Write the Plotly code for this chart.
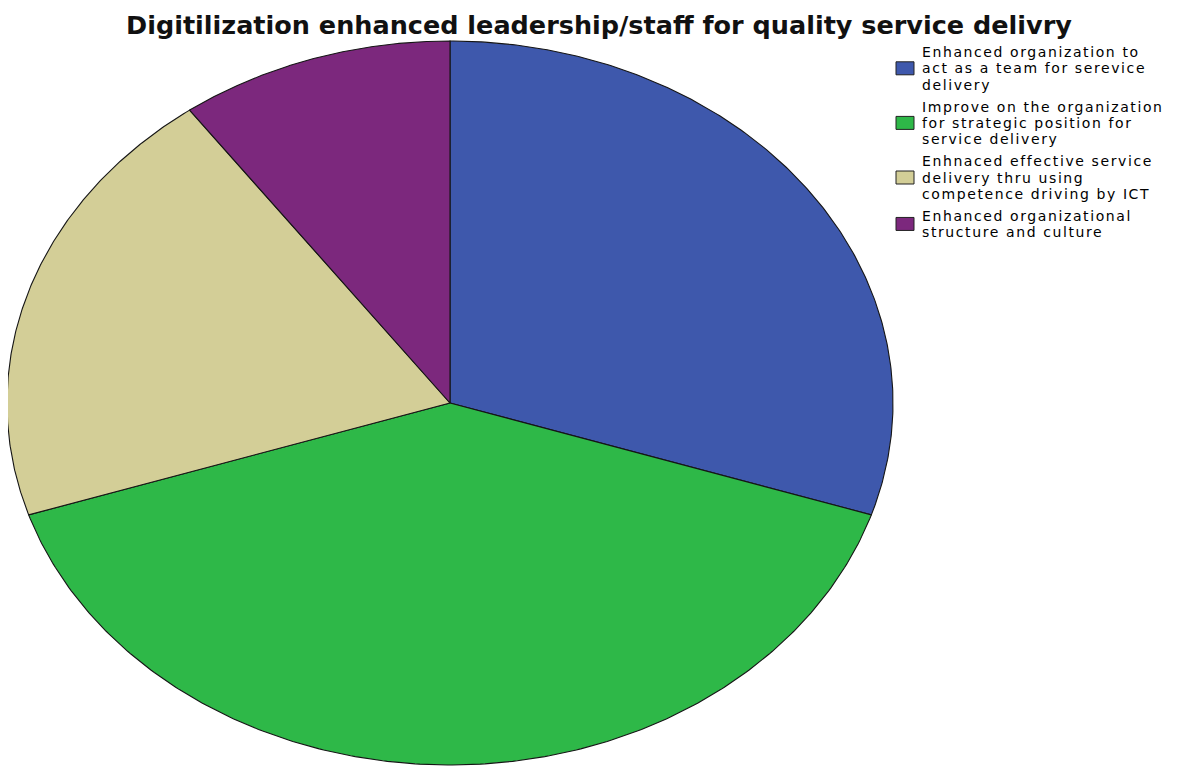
import numpy as np
import plotly.graph_objects as go

# ---- data ----
title_text = "Digitilization enhanced leadership/staff for quality service delivry"
categories = [
    "Enhanced organization to act as a team for serevice delivery",
    "Improve on the organization for strategic position for service delivery",
    "Enhnaced effective service delivery thru using competence driving by ICT",
    "Enhanced organizational structure and culture",
]
legend_lines = [
    ["Enhanced organization to", "act as a team for serevice", "delivery"],
    ["Improve on the organization", "for strategic position for", "service delivery"],
    ["Enhnaced effective service", "delivery thru using", "competence driving by ICT"],
    ["Enhanced organizational", "structure and culture"],
]
values = [30, 40, 20, 10]
colors = ["#3E58AC", "#2EB848", "#D3CE97", "#7C287D"]

# ---- layout constants (page pixel space; page body has an 8px margin) ----
W, H = 1186, 767
OFF = 8
cx, cy = 450, 403
rx, ry = 443, 362

fig = go.Figure()

total = float(sum(values))
start = 0.0
for cat, v, col in zip(categories, values, colors):
    a0 = start / total * 2 * np.pi
    a1 = (start + v) / total * 2 * np.pi
    t = np.linspace(a0, a1, 240)
    xs = np.concatenate([[cx], cx + rx * np.sin(t), [cx]])
    ys = np.concatenate([[cy], cy - ry * np.cos(t), [cy]])
    fig.add_trace(go.Scatter(
        x=xs, y=ys, mode="lines", fill="toself", fillcolor=col,
        line=dict(color="#151515", width=1.1), name=cat,
        hoverinfo="name", showlegend=False,
    ))
    start += v

# ---- custom legend ----
annotations = []
shapes = []
y = 52.0
pitch = 16.3
gap = 22.0
for lines, col in zip(legend_lines, colors):
    ys_lines = [y + i * pitch for i in range(len(lines))]
    for txt, yy in zip(lines, ys_lines):
        annotations.append(dict(
            x=920, y=yy, xref="x", yref="y",
            text='<span style="letter-spacing:1.6px">' + txt + "</span>",
            showarrow=False, xanchor="left", yanchor="middle",
            font=dict(family="DejaVu Sans", size=14, color="#000000"),
        ))
    ym = (ys_lines[0] + ys_lines[-1]) / 2
    shapes.append(dict(
        type="rect", xref="x", yref="y", x0=896, x1=914, y0=ym - 6.5, y1=ym + 6.5,
        fillcolor=col, line=dict(color="#222222", width=1),
    ))
    y = ys_lines[-1] + gap

annotations.append(dict(
    x=599, y=OFF, xref="x", yref="y", text="<b>" + title_text + "</b>",
    showarrow=False, xanchor="center", yanchor="top",
    font=dict(family="DejaVu Sans", size=25.5, color="#111111"),
))

fig.update_layout(
    width=W - OFF, height=H - OFF, autosize=False,
    margin=dict(l=0, r=0, t=0, b=0),
    paper_bgcolor="white", plot_bgcolor="white",
    xaxis=dict(range=[OFF, W], visible=False, fixedrange=True),
    yaxis=dict(range=[H, OFF], visible=False, fixedrange=True),
    annotations=annotations, shapes=shapes,
    showlegend=False,
)

fig.write_html("out.html", config={"displayModeBar": False})
